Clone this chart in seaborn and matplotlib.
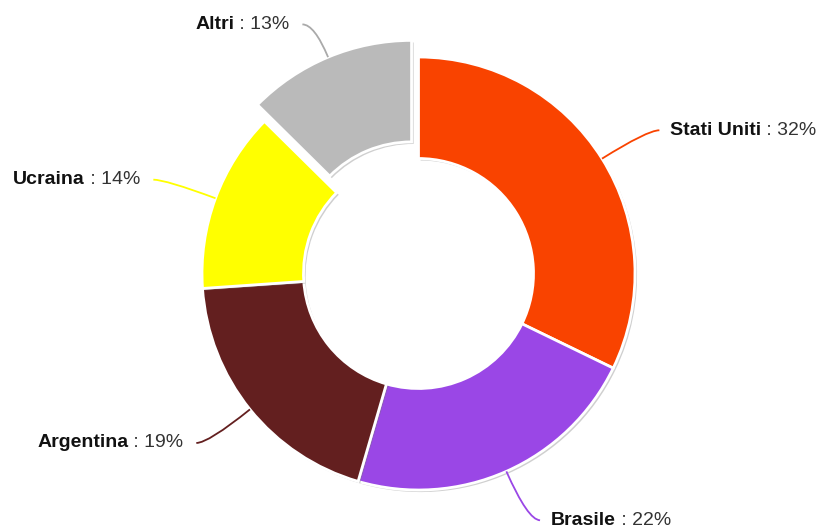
import numpy as np
import matplotlib
matplotlib.use('Agg')
import matplotlib.pyplot as plt
import seaborn as sns
from matplotlib import patheffects as pe
from matplotlib.path import Path
from matplotlib.patches import PathPatch

paesi = ['Stati Uniti', 'Brasile', 'Argentina', 'Ucraina', 'Altri']
quote = [32.2, 22.3, 19.4, 13.5, 12.6]
colori = ['#f94300', '#9a47e6', '#631f1f', '#ffff00', '#bababa']
colori_linee = ['#f94300', '#9a47e6', '#631f1f', '#ffff00', '#aaaaaa']
esplodi = [0, 0, 0, 0, 18]

sns.set_theme(style='white')
plt.rcParams['font.family'] = ['Liberation Sans', 'DejaVu Sans']

fig = plt.figure(figsize=(8.25, 5.31), dpi=100)
ax = fig.add_axes([0, 0, 1, 1])

# centro e raggi in pixel
cx, cy, R, spessore = 418.5, 257.5, 216.5, 101.5
wedges, _ = ax.pie(quote, colors=colori, startangle=90, counterclock=False,
                   radius=R, center=(cx, cy), explode=esplodi,
                   wedgeprops=dict(width=spessore, edgecolor='white', linewidth=2))
for w in wedges:
    w.set_path_effects([pe.withSimplePatchShadow(offset=(1.5, -1.5), shadow_rgbFace='#777777', alpha=0.35)])

ax.set_xlim(0, 825)
ax.set_ylim(0, 531)
ax.set_aspect('equal')
ax.axis('off')

# etichette con linee curve
for w, nome, q, col in zip(wedges, paesi, quote, colori_linee):
    th = np.deg2rad((w.theta1 + w.theta2) / 2)
    ox, oy = w.center
    p0 = (ox + R * np.cos(th), oy + R * np.sin(th))
    lato = 1 if np.cos(th) >= 0 else -1
    gomito = (cx + 270 * np.cos(th), cy + 270 * np.sin(th))
    p2 = (gomito[0] + lato * 12, gomito[1])
    path = Path([p0, gomito, p2], [Path.MOVETO, Path.CURVE3, Path.CURVE3])
    ax.add_patch(PathPatch(path, fill=False, edgecolor=col, lw=1.3))
    resto = f' : {q:.0f}%'
    if lato > 0:
        t1 = ax.text(p2[0] + 11, p2[1], nome, ha='left', va='center',
                     fontsize=14, fontweight='bold', color='#111111')
        ax.annotate(resto, xy=(1, 0), xycoords=t1, ha='left', va='bottom',
                    fontsize=14, color='#333333')
    else:
        t2 = ax.text(p2[0] - 13, p2[1], resto, ha='right', va='center',
                     fontsize=14, color='#333333')
        ax.annotate(nome, xy=(0, 0), xycoords=t2, ha='right', va='bottom',
                    fontsize=14, fontweight='bold', color='#111111')

fig.savefig('out.png', dpi=100)
